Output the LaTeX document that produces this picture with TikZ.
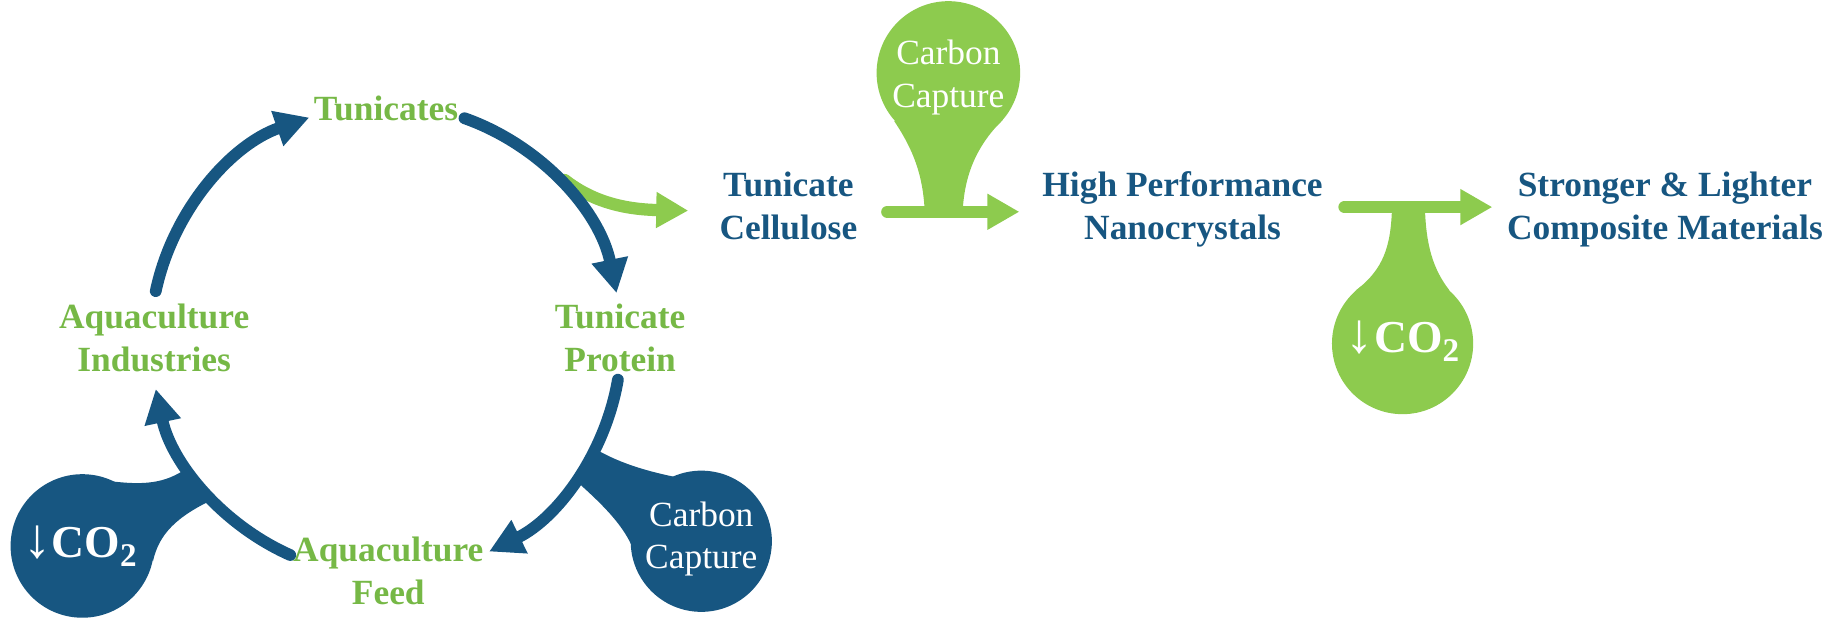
\documentclass[tikz,border=0pt]{standalone}
\usepackage{fontspec}
\setmainfont{Liberation Serif}
\usepackage{xcolor}
\usetikzlibrary{arrows.meta}
\tikzset{every picture/.append style={font=\fontsize{10.7}{12.9}\selectfont\bfseries}}
\definecolor{figblue}{HTML}{175681}
\definecolor{figgreen}{HTML}{8DCB4E}
\definecolor{figleaf}{HTML}{76B846}
\tikzset{
  stage/.style={align=center,inner sep=0pt},
  bubbletext/.style={align=center,inner sep=0pt,white,font=\fontsize{10.7}{12.9}\selectfont\mdseries},
  cycarrow/.style={figblue,line width=0.125cm,line cap=round,-{Triangle[length=0.36cm,width=0.37cm]}},
  flowarrow/.style={figgreen,line width=0.13cm,line cap=round,-{Triangle[length=0.34cm,width=0.36cm]}},
}
\newcommand{\lessco}{{\fontsize{17}{17}\selectfont\mdseries↓\fontsize{13.8}{14}\selectfont\bfseries CO\raisebox{-0.45ex}{\fontsize{10}{10}\selectfont 2}}}

\begin{document}
\begin{tikzpicture}[x=0.0125cm,y=0.0125cm]
    \useasboundingbox (0,0) rectangle (1568,539);
    \coordinate (cyc) at (328,250);
    % blue bubbles on the cycle
    \fill[figblue] (70,75) circle[radius=61];
    \fill[figblue] (160,142) .. controls (140,127) and (120,127) .. (94,130) -- (130,62)
      .. controls (135,85) and (150,100) .. (182,115) -- cycle;
    \fill[figblue] (596,79) circle[radius=60];
    \fill[figblue] (505,158) .. controls (525,146) and (548,139) .. (572,134) -- (537,75)
      .. controls (528,95) and (510,112) .. (490,130) -- cycle;
    % green bubbles
    \fill[figgreen] (806,477) circle[radius=61];
    \fill[figgreen] (760,436) .. controls (776,412) and (785,390) .. (786,356) -- (818,356)
      .. controls (819,390) and (830,415) .. (852,437) -- cycle;
    \fill[figgreen] (1192,247) circle[radius=60];
    \fill[figgreen] (1183,362) .. controls (1182,330) and (1176,310) .. (1152,292) -- (1232,292)
      .. controls (1218,310) and (1212,330) .. (1211,362) -- cycle;
    % labels
    \node[stage,figleaf] (tunicates) at (328,447) {Tunicates};
    \node[stage,figleaf] (industries) at (131,252) {Aquaculture\\Industries};
    \node[stage,figleaf] (protein) at (527,252) {Tunicate\\Protein};
    \node[stage,figleaf] (feed) at (330,54) {Aquaculture\\Feed};
    \node[stage,figblue] (cellulose) at (670,364) {Tunicate\\Cellulose};
    \node[stage,figblue] (nano) at (1005,361) {High Performance\\Nanocrystals};
    \node[stage,figblue] (composite) at (1415,361) {Stronger \& Lighter\\Composite Materials};
    \node[stage,white] (lessa) at (68,75) {\lessco};
    \node[bubbletext] (capturea) at (596,81) {Carbon\\Capture};
    \node[bubbletext] (captureb) at (806,473) {Carbon\\Capture};
    \node[stage,white] (lessb) at (1192,249) {\lessco};
    % green flow
    \coordinate (branch) at (480,386);
    \draw[flowarrow] (branch) .. controls (503,368) and (530,361) .. ([shift={(-26,-4)}]cellulose.west);
    \draw[flowarrow] ([shift={(25,-5)}]cellulose.east) -- ([shift={(-19,-2)}]nano.west);
    \draw[flowarrow] ([shift={(18,2)}]nano.east) -- ([shift={(-12,2)}]composite.west);
    % the cycle
    \draw[cycarrow] ([shift={(168:200)}]cyc) arc[start angle=168,end angle=109,radius=200];
    \draw[cycarrow] ([shift={(70.5:200)}]cyc) arc[start angle=70.5,end angle=11.5,radius=200];
    \draw[cycarrow] ([shift={(-9.7:200)}]cyc) arc[start angle=-9.7,end angle=-64,radius=200];
    \draw[cycarrow] ([shift={(246:200)}]cyc) arc[start angle=246,end angle=192,radius=200];
\end{tikzpicture}
\end{document}
